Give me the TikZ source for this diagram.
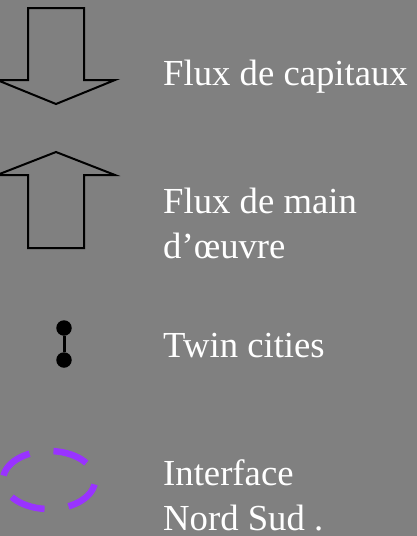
\documentclass[tikz,border=0pt]{standalone}
\usepackage{fontspec}
\setmainfont{Liberation Serif}
\usepackage{tikz, color}
\usetikzlibrary{positioning, calc}
\definecolor{fond}{RGB}{128,128,128}
\definecolor{violet}{RGB}{153,51,255}
\tikzset{
  legende/.style={
	x=1pt, y=-1pt, % one unit = one pixel of the layout
	every node/.style={inner sep=0pt},
  },
  fleche/.style={draw=black, line width=2pt, line join=miter}, % the two flux arrows
  libelle/.style={anchor=base west, text=white, align=left, font=\fontsize{36.7}{45}\selectfont}, % legend texts, base = last line
  ville/.style={circle, fill=black, minimum size=15.5pt}, % twin city dots
  interface/.style={draw=violet, line width=6.5pt, dash pattern=on 35.5pt off 24.16pt, dash phase=40pt}, % north-south ring
}

\begin{document}
\begin{tikzpicture}[legende]
	  \fill[fond] (0,0) rectangle (417,536);
	  \useasboundingbox (0,0) rectangle (417,536);
	  % capital flows
	  \draw[fleche] (28,8) -- (84,8) -- (84,80) -- (115,80) -- (56,104) -- (-3,80) -- (28,80) -- cycle;
	  \node[libelle] (capitaux) at (163,85) {Flux de capitaux};
	  % labour flows
	  \draw[fleche] (56,152) -- (115,175) -- (84,175) -- (84,248) -- (28,248) -- (28,175) -- (-3,175) -- cycle;
	  \node[libelle] (main) at (163,258) {Flux de main\\d’œuvre};
	  % twin cities
	  \node[ville] (v1) at (64,328) {};
	  \node[ville] (v2) at (64,360) {};
	  \draw[line width=3pt] (v1) -- (v2);
	  \node[libelle] (twin) at (163,357) {Twin cities};
	  % interface
	  \draw[interface] (49,480) ellipse [x radius=46pt, y radius=29pt];
	  \node[libelle] (nordsud) at (163,530) {Interface\\Nord Sud .};
\end{tikzpicture}
\end{document}
